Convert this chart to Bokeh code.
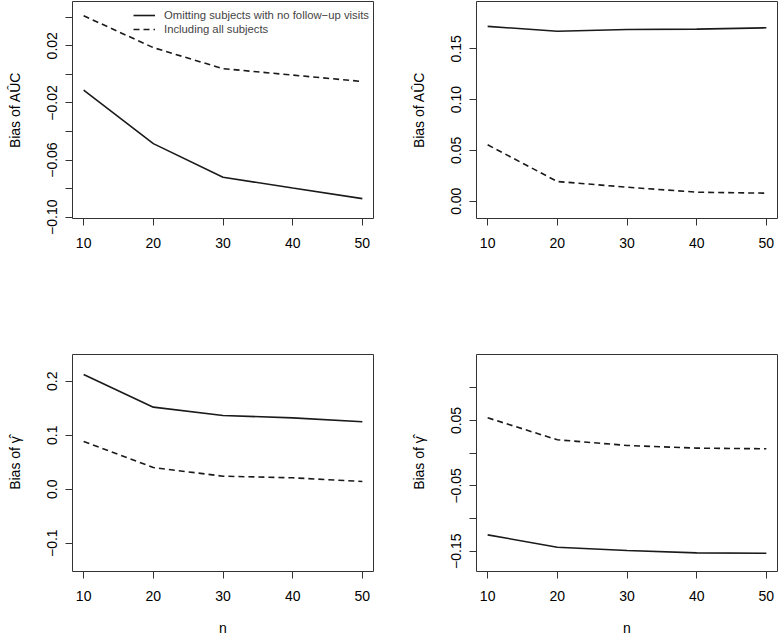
import math
from bokeh.plotting import figure
from bokeh.layouts import gridplot
from bokeh.models import Range1d, FixedTicker, Legend, LegendItem
from bokeh.embed import file_html
from bokeh.resources import INLINE

# ---------------- data ----------------
n = [10, 20, 30, 40, 50]
x_ticks = [10, 20, 30, 40, 50]

auc1_omit = [-0.011, -0.0485, -0.072, -0.0796, -0.087]
auc1_all = [0.041, 0.0187, 0.004, -0.0005, -0.005]
auc2_omit = [0.172, 0.1673, 0.169, 0.1693, 0.1706]
auc2_all = [0.0555, 0.0194, 0.0138, 0.0089, 0.0079]
gam1_omit = [0.2124, 0.1519, 0.1365, 0.132, 0.1248]
gam1_all = [0.0883, 0.0401, 0.0241, 0.0211, 0.0143]
gam2_omit = [-0.125, -0.1439, -0.149, -0.1526, -0.1532]
gam2_all = [0.0541, 0.0205, 0.0118, 0.0077, 0.0067]

y1_ticks = [0.04, 0.02, 0.0, -0.02, -0.04, -0.06, -0.08, -0.10]
y1_labels = ["", "0.02", "", "\u22120.02", "", "\u22120.06", "", "\u22120.10"]
y2_ticks = [0.15, 0.10, 0.05, 0.0]
y2_labels = ["0.15", "0.10", "0.05", "0.00"]
y3_ticks = [0.2, 0.1, 0.0, -0.1]
y3_labels = ["0.2", "0.1", "0.0", "\u22120.1"]
y4_ticks = [0.10, 0.05, 0.0, -0.05, -0.10, -0.15]
y4_labels = ["", "0.05", "", "\u22120.05", "", "\u22120.15"]

series_names = ["Omitting subjects with no follow\u2212up visits", "Including all subjects"]
auc_label = "Bias of A\u00dbC"
gam_label = "Bias of \u03b3\u0302"
x_title = "n"

FONT = "Liberation Sans"
INK = "#1a1a1a"


def make_panel(ylabel, yticks, ylabels, yr, omit, incl, left, right, top, bottom,
               xlabel=None, legend=False):
    p = figure(frame_width=301, frame_height=217,
               x_range=Range1d(8.4, 51.6), y_range=Range1d(*yr),
               output_backend="svg", toolbar_location=None,
               min_border_left=left, min_border_right=right,
               min_border_top=top, min_border_bottom=bottom)
    p.grid.visible = False
    p.outline_line_color = "#333333"
    p.outline_line_width = 1
    p.background_fill_color = "white"
    p.border_fill_color = "white"

    r1 = p.line(n, omit, line_color=INK, line_width=1.6)
    r2 = p.line(n, incl, line_color=INK, line_width=1.6, line_dash="6 4")

    for ax in (p.xaxis[0], p.yaxis[0]):
        ax.axis_line_color = None
        ax.major_tick_line_color = "#333333"
        ax.major_tick_out = 7
        ax.major_tick_in = 0
        ax.minor_tick_line_color = None
        ax.major_label_text_font = FONT
        ax.major_label_text_font_size = "14px"
        ax.major_label_text_color = "black"
        ax.axis_label_text_font = FONT
        ax.axis_label_text_font_size = "14px"
        ax.axis_label_text_font_style = "normal"
        ax.axis_label_text_color = "black"

    p.xaxis.ticker = FixedTicker(ticks=x_ticks)
    p.xaxis.major_label_standoff = 12
    if xlabel:
        p.xaxis.axis_label = xlabel
        p.xaxis.axis_label_standoff = 16

    p.yaxis.ticker = FixedTicker(ticks=yticks)
    p.yaxis.major_label_overrides = {t: l for t, l in zip(yticks, ylabels)}
    p.yaxis.major_label_orientation = "vertical"
    p.yaxis.major_label_standoff = 8
    p.yaxis.axis_label = ylabel
    p.yaxis.axis_label_standoff = 22

    if legend:
        lg = Legend(items=[LegendItem(label=series_names[0], renderers=[r1]),
                           LegendItem(label=series_names[1], renderers=[r2])],
                    location=(61, 182), border_line_color=None,
                    background_fill_alpha=0, label_text_font=FONT,
                    label_text_font_size="11.3px", glyph_width=22, glyph_height=14,
                    label_height=14, label_standoff=9, spacing=0, padding=0, margin=0)
        p.add_layout(lg)
    return p


p1 = make_panel(auc_label, y1_ticks, y1_labels, (-0.1009, 0.0510), auc1_omit, auc1_all,
                72, 16, 1, 100, legend=True)
p2 = make_panel(auc_label, y2_ticks, y2_labels, (-0.0170, 0.1965), auc2_omit, auc2_all,
                87, 1, 1, 100)
p3 = make_panel(gam_label, y3_ticks, y3_labels, (-0.1524, 0.2494), gam1_omit, gam1_all,
                72, 16, 36, 65, xlabel=x_title)
p4 = make_panel(gam_label, y4_ticks, y4_labels, (-0.1811, 0.1510), gam2_omit, gam2_all,
                87, 1, 36, 65, xlabel=x_title)

p = gridplot([[p1, p2], [p3, p4]], toolbar_location=None)

open("out.html", "w").write(file_html(p, INLINE))
